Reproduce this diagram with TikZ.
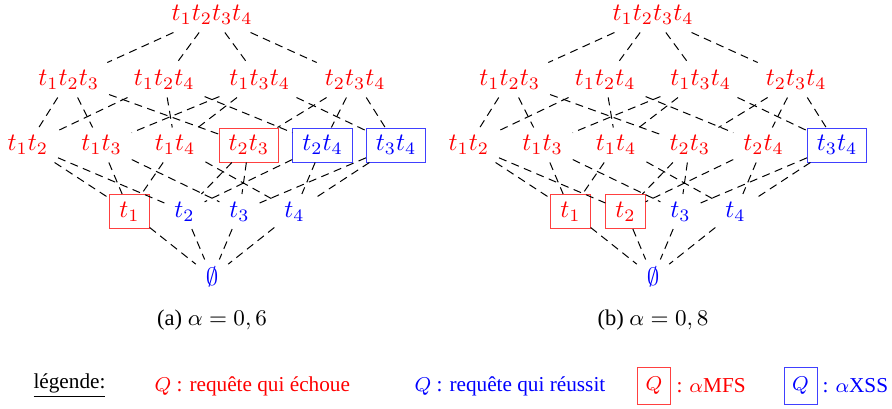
\documentclass[tikz,border=0pt]{standalone}
\usepackage{fontspec}
\setmainfont{Liberation Serif}
\begin{document}
\begin{tikzpicture}[x=0.4pt,y=-0.4pt,
  lat/.style={rectangle, minimum height=13.6pt, inner xsep=3.8pt, inner ysep=0pt, line width=0.4pt},
  fail/.style={lat, text=red},
  succ/.style={lat, text=blue},
  mfs/.style={fail, draw=red!75},
  xss/.style={succ, draw=blue!75},
  edge/.style={draw=black, line width=0.4pt, dash pattern=on 3.2pt off 2.2pt},
  captext/.style={font=\fontsize{9}{11}\selectfont},
  leg/.style={font=\fontsize{8.5}{10}\selectfont, inner sep=0pt},
  legbox/.style={rectangle, minimum width=13.2pt, minimum height=14.8pt, inner sep=0pt, line width=0.4pt, font=\fontsize{8.5}{10}\selectfont}]
\useasboundingbox (0,0) rectangle (892,408);
% ---- lattice (a)
\node[fail] (aT) at (212,15) {$t_1t_2t_3t_4$};
\node[fail] (a123) at (68.75,80) {$t_1t_2t_3$};
\node[fail] (a124) at (164.25,80) {$t_1t_2t_4$};
\node[fail] (a134) at (259.75,80) {$t_1t_3t_4$};
\node[fail] (a234) at (355.25,80) {$t_2t_3t_4$};
\node[fail] (a12) at (27.8,145) {$t_1t_2$};
\node[fail] (a13) at (101.5,145) {$t_1t_3$};
\node[fail] (a14) at (175.2,145) {$t_1t_4$};
\node[mfs]  (a23) at (248.8,145) {$t_2t_3$};
\node[xss]  (a24) at (322.5,145) {$t_2t_4$};
\node[xss]  (a34) at (396.2,145) {$t_3t_4$};
\node[mfs]  (a1) at (129.5,211.5) {$t_1$};
\node[succ] (a2) at (184.5,211.5) {$t_2$};
\node[succ] (a3) at (239.5,211.5) {$t_3$};
\node[succ] (a4) at (294.5,211.5) {$t_4$};
\node[succ] (aE) at (212,277) {$\emptyset$};
% ---- lattice (b)
\node[fail] (bT) at (653,15) {$t_1t_2t_3t_4$};
\node[fail] (b123) at (509.75,80) {$t_1t_2t_3$};
\node[fail] (b124) at (605.25,80) {$t_1t_2t_4$};
\node[fail] (b134) at (700.75,80) {$t_1t_3t_4$};
\node[fail] (b234) at (796.25,80) {$t_2t_3t_4$};
\node[fail] (b12) at (468.8,145) {$t_1t_2$};
\node[fail] (b13) at (542.5,145) {$t_1t_3$};
\node[fail] (b14) at (616.2,145) {$t_1t_4$};
\node[fail] (b23) at (689.8,145) {$t_2t_3$};
\node[fail] (b24) at (763.5,145) {$t_2t_4$};
\node[xss]  (b34) at (837.2,145) {$t_3t_4$};
\node[mfs]  (b1) at (570.5,211.5) {$t_1$};
\node[mfs]  (b2) at (625.5,211.5) {$t_2$};
\node[succ] (b3) at (680.5,211.5) {$t_3$};
\node[succ] (b4) at (735.5,211.5) {$t_4$};
\node[succ] (bE) at (653,277) {$\emptyset$};
% ---- edges
\foreach \p in {a,b}{
  \foreach \u/\l in {T/123,T/124,T/134,T/234,
      123/12,123/13,123/23,124/12,124/14,124/24,
      134/13,134/14,134/34,234/23,234/24,234/34,
      12/1,12/2,13/1,13/3,14/1,14/4,23/2,23/3,24/2,24/4,34/3,34/4,
      1/E,2/E,3/E,4/E}
    \draw[edge] (\p\u) -- (\p\l);
}
% ---- captions
\node[captext] (capa) at (212,320) {(a) $\alpha=0,6$};
\node[captext] (capb) at (653,320) {(b) $\alpha=0,8$};
% ---- legend
\node[leg, anchor=west] (lg) at (33,386) {\underline{légende:}};
\node[leg, anchor=west, text=red] (lf) at (154,386) {$Q$ : requête qui échoue};
\node[leg, anchor=west, text=blue] (ls) at (414,386) {$Q$ : requête qui réussit};
\node[legbox, draw=red!75, text=red] (lm) at (654,386) {$Q$};
\node[leg, anchor=west, text=red] (lmt) at (676,386) {: $\alpha$MFS};
\node[legbox, draw=blue!75, text=blue] (lx) at (800.5,386) {$Q$};
\node[leg, anchor=west, text=blue] (lxt) at (822,386) {: $\alpha$XSS};
\end{tikzpicture}
\end{document}
